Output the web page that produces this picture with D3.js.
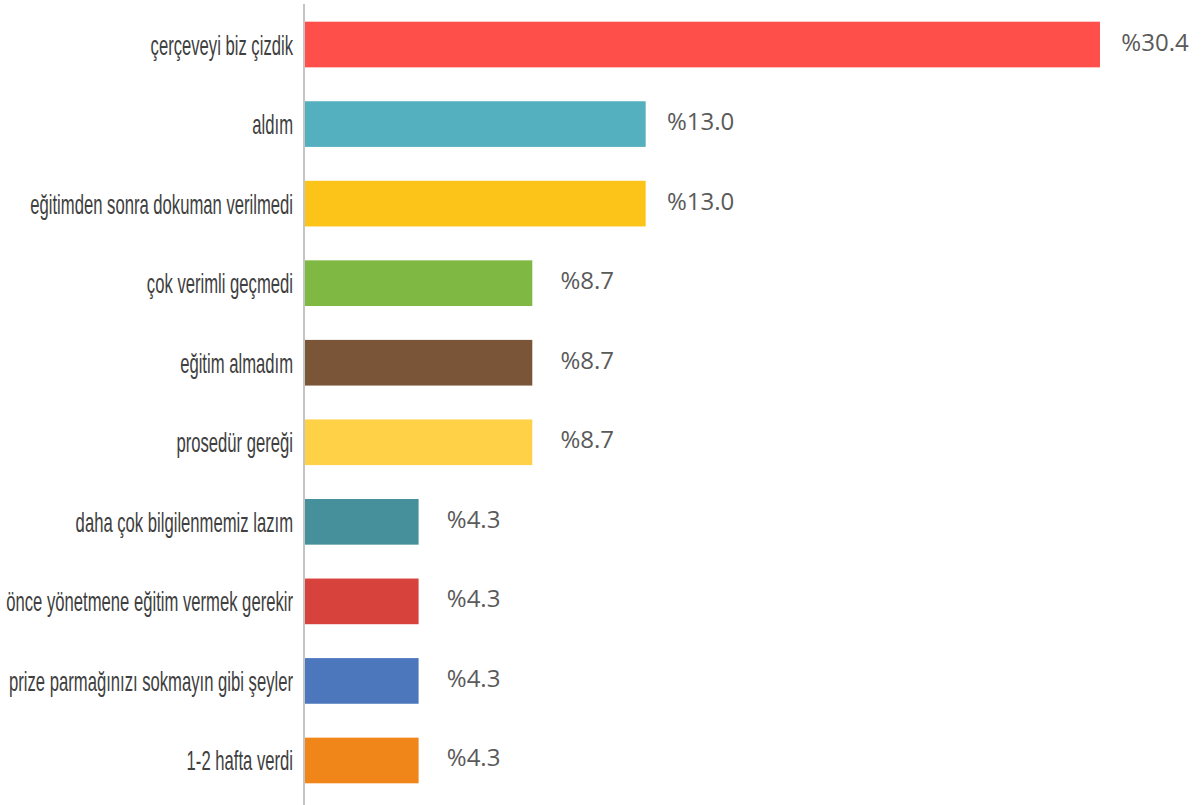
<!DOCTYPE html>
<html>
<head>
<meta charset="utf-8">
<script src="https://cdn.jsdelivr.net/npm/d3@7"></script>
<style>
  html, body { margin: 0; padding: 0; background: #fff; }
  svg { display: block; }
</style>
</head>
<body>
<svg id="chart" width="1202" height="805"></svg>
<script>
const categories = [
  "çerçeveyi biz çizdik",
  "aldım",
  "eğitimden sonra dokuman verilmedi",
  "çok verimli geçmedi",
  "eğitim almadım",
  "prosedür gereği",
  "daha çok bilgilenmemiz lazım",
  "önce yönetmene eğitim vermek gerekir",
  "prize parmağınızı sokmayın gibi şeyler",
  "1-2 hafta verdi"
];
const values = [30.43, 13.04, 13.04, 8.70, 8.70, 8.70, 4.348, 4.348, 4.348, 4.348];
const colors = ["#FF4F4B", "#54AFBE", "#FCC419", "#7FB842", "#7B5537",
                "#FFD146", "#45909A", "#D8423C", "#4C77BD", "#F0861A"];

const svg = d3.select("#chart");
const x0 = 305;
const x = d3.scaleLinear().domain([0, 30.43]).range([x0, 1100]);
const y = d3.scaleBand().domain(categories).range([4.75, 800.25])
  .paddingInner(0.426).paddingOuter(0.213);

// bars
svg.selectAll("rect.bar").data(categories).join("rect")
  .attr("class", "bar")
  .attr("x", x(0))
  .attr("y", d => y(d))
  .attr("width", (d, i) => x(values[i]) - x(0))
  .attr("height", y.bandwidth())
  .attr("fill", (d, i) => colors[i]);

// axis line
svg.append("line")
  .attr("x1", x0 - 1).attr("x2", x0 - 1)
  .attr("y1", 4).attr("y2", 805)
  .attr("stroke", "#c4c4c4").attr("stroke-width", 2);

// category labels (condensed)
const sx = 0.595;
svg.selectAll("text.cat").data(categories).join("text")
  .attr("class", "cat")
  .attr("transform", d => `translate(293,${y(d) + y.bandwidth() / 2 + 10}) scale(${sx},1)`)
  .attr("text-anchor", "end")
  .attr("font-family", "'Liberation Sans', Arial, sans-serif")
  .attr("font-size", 28)
  .attr("fill", "#404040")
  .text(d => d);

// value labels
svg.selectAll("text.val").data(categories).join("text")
  .attr("class", "val")
  .attr("x", (d, i) => x(values[i]) + 55)
  .attr("y", d => y(d) + y.bandwidth() / 2 + 6)
  .attr("text-anchor", "middle")
  .attr("font-family", "'Open Sans', sans-serif")
  .attr("font-size", 24)
  .attr("fill", "#5a5a5a")
  .text((d, i) => "%" + values[i].toFixed(1));
</script>
</body>
</html>
